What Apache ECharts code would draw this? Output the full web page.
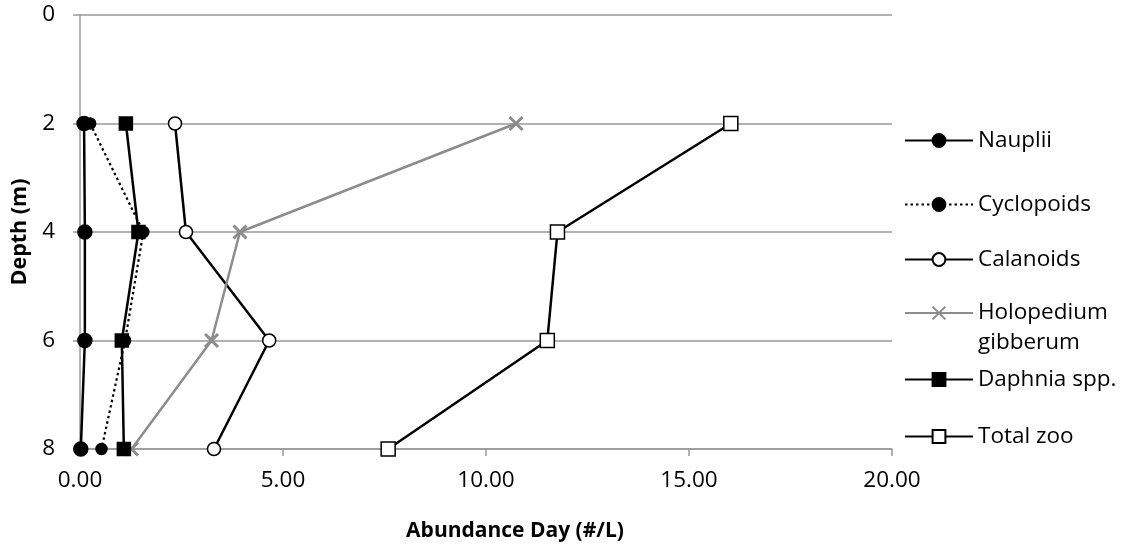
<!DOCTYPE html>
<html>
<head>
<meta charset="utf-8">
<script src="https://cdn.jsdelivr.net/npm/echarts@6/dist/echarts.min.js"></script>
<style>
  html, body { margin: 0; padding: 0; background: #fff; }
  #chart { width: 1126px; height: 552px; }
</style>
</head>
<body>
<div id="chart"></div>
<script>
// depth of each sample (m)
const depths = [2, 4, 6, 8];
// abundance (#/L) per depth
const nauplii = [0.1, 0.12, 0.12, 0.02];
const cyclopoids = [0.25, 1.56, 1.11, 0.53];
const calanoids = [2.34, 2.61, 4.66, 3.3];
const holopedium = [10.74, 3.94, 3.24, 1.27];
const daphnia = [1.13, 1.44, 1.03, 1.08];
const totalZoo = [16.03, 11.76, 11.51, 7.59];

const depthTicks = [0, 2, 4, 6, 8];
const abundanceTicks = [0, 5, 10, 15, 20];

const FONT = "'Open Sans', sans-serif";
const GRID = '#999999';
const GREY = '#8c8c8c';
const crossPath = 'path://M0,0L10,10M0,10L10,0';

const chartDom = document.getElementById('chart');
const myChart = echarts.init(chartDom);

// pair each value with its depth
const pairs = vals => vals.map((v, i) => [v, depths[i]]);

function lineSeries(name, vals, opts) {
  return {
    name: name,
    type: 'line',
    data: pairs(vals),
    symbol: opts.symbol,
    symbolSize: opts.size,
    showSymbol: true,
    animation: false,
    lineStyle: { color: opts.line || '#000', width: opts.width || 2.5, type: opts.dash || 'solid' },
    itemStyle: {
      color: opts.fill,
      borderColor: opts.stroke || '#000',
      borderWidth: opts.border || 1.5
    },
    emphasis: { disabled: true }
  };
}

const series = [
  lineSeries('Nauplii', nauplii, { symbol: 'circle', size: 14, fill: '#000' }),
  lineSeries('Cyclopoids', cyclopoids, { symbol: 'circle', size: 11, fill: '#000', dash: [2.5, 3], width: 2.2 }),
  lineSeries('Calanoids', calanoids, { symbol: 'circle', size: 13, fill: '#fff' }),
  lineSeries('Holopedium gibberum', holopedium, { symbol: crossPath, size: 13, fill: GREY, stroke: GREY, border: 3, line: GREY }),
  lineSeries('Daphnia spp.', daphnia, { symbol: 'rect', size: 13, fill: '#000' }),
  lineSeries('Total zoo', totalZoo, { symbol: 'rect', size: 14, fill: '#fff' })
];

// legend rows: name, centre y of the icon
const legendRows = [
  ['Nauplii', 137],
  ['Cyclopoids', 201],
  ['Calanoids', 256],
  ['Holopedium gibberum', 313],
  ['Daphnia spp.', 376],
  ['Total zoo', 433]
];

const legends = legendRows.map(([name, cy]) => {
  const twoLine = name === 'Holopedium gibberum';
  return {
    data: [name],
    left: 904,
    top: twoLine ? cy - 45 : cy - 8,
    padding: 0,
    itemWidth: 68,
    itemHeight: 16,
    selectedMode: false,
    // blank first line keeps "Holopedium" level with the icon
    formatter: n => (twoLine ? '\u00a0\nHolopedium\ngibberum' : n),
    textStyle: {
      fontFamily: FONT,
      fontSize: 22.5,
      color: '#000',
      lineHeight: twoLine ? 30 : 16
    }
  };
});

const option = {
  backgroundColor: '#fff',
  animation: false,
  grid: { left: 80, right: 234, top: 15, bottom: 103, containLabel: false },
  legend: legends,
  xAxis: {
    type: 'value',
    min: abundanceTicks[0],
    max: abundanceTicks[abundanceTicks.length - 1],
    interval: abundanceTicks[1] - abundanceTicks[0],
    name: 'Abundance Day (#/L)',
    nameLocation: 'middle',
    nameGap: 72,
    nameTextStyle: {
      fontFamily: FONT, fontSize: 21, fontWeight: 'bold', color: '#000',
      padding: [0, 0, 0, 58]
    },
    axisLine: { show: true, onZero: false, lineStyle: { color: GRID, width: 1.5 } },
    axisTick: { show: true, length: 7, lineStyle: { color: GRID, width: 1.5 } },
    axisLabel: {
      fontFamily: FONT, fontSize: 22.5, color: '#000', margin: 20,
      formatter: v => v.toFixed(2)
    },
    splitLine: { show: false }
  },
  yAxis: {
    type: 'value',
    inverse: true,
    min: depthTicks[0],
    max: depthTicks[depthTicks.length - 1],
    interval: depthTicks[1] - depthTicks[0],
    name: 'Depth (m)',
    nameLocation: 'middle',
    nameGap: 46,
    nameTextStyle: { fontFamily: FONT, fontSize: 21.5, fontWeight: 'bold', color: '#000' },
    axisLine: { show: true, onZero: false, lineStyle: { color: GRID, width: 1.5 } },
    axisTick: { show: true, length: 7, lineStyle: { color: GRID, width: 1.5 } },
    axisLabel: { fontFamily: FONT, fontSize: 22.5, color: '#000', margin: 25 },
    splitLine: { show: true, lineStyle: { color: GRID, width: 1.5 } }
  },
  series: series
};

option && myChart.setOption(option);
</script>
</body>
</html>
